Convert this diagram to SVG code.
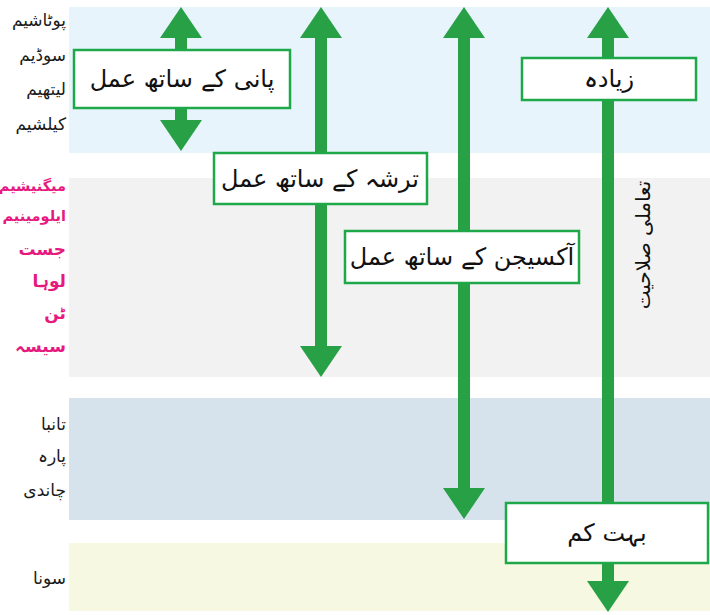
<svg xmlns="http://www.w3.org/2000/svg" width="710" height="615" viewBox="0 0 710 615">
<style>
.ur{font-family:"DejaVu Sans",sans-serif;}
.lbl{font-size:17px;fill:#1a1a1a;text-anchor:end;}
.mg{fill:#e6197f;font-weight:bold;font-size:17px;}
.sm{font-size:14.5px;}
.box{fill:#ffffff;stroke:#1fa84a;stroke-width:2.5;}
.bt{font-size:24px;fill:#111;text-anchor:middle;dominant-baseline:central;}
.vt{font-size:20px;}
.arr{stroke:#27a046;stroke-width:12;fill:none;marker-start:url(#head);marker-end:url(#head);}
</style>
<defs>
<marker id="head" markerUnits="userSpaceOnUse" markerWidth="31" markerHeight="42" refX="0" refY="21" orient="auto-start-reverse" viewBox="0 0 31 42">
<path d="M0,0 L31,21 L0,42 Z" fill="#27a046"/>
</marker>
</defs>
<g id="bands">
<rect x="69" y="7" width="641" height="146" fill="#e7f4fc"/>
<rect x="69" y="178" width="641" height="199" fill="#f2f2f2"/>
<rect x="69" y="398" width="641" height="122" fill="#d6e2ec"/>
<rect x="69" y="543" width="641" height="68" fill="#f7f8e1"/>
</g>
<g id="metals" class="ur">
<text class="lbl" x="66" y="26">پوٹاشیم</text>
<text class="lbl" x="66" y="61">سوڈیم</text>
<text class="lbl" x="66" y="95">لیتھیم</text>
<text class="lbl" x="66" y="130">کیلشیم</text>
<text class="lbl mg sm" x="66" y="191">میگنیشیم</text>
<text class="lbl mg sm" x="66" y="221">ایلومینیم</text>
<text class="lbl mg" x="66" y="255">جست</text>
<text class="lbl mg" x="66" y="287">لوہا</text>
<text class="lbl mg" x="66" y="319">ٹن</text>
<text class="lbl mg" x="66" y="352">سیسہ</text>
<text class="lbl" x="66" y="430">تانبا</text>
<text class="lbl" x="66" y="462">پارہ</text>
<text class="lbl" x="66" y="496">چاندی</text>
<text class="lbl" x="66" y="584">سونا</text>
</g>
<g id="connectors">
<line class="arr" x1="181" y1="38" x2="181" y2="120"/>
<line class="arr" x1="321" y1="38" x2="321" y2="346"/>
<line class="arr" x1="464" y1="38" x2="464" y2="488"/>
<line class="arr" x1="608" y1="38" x2="608" y2="581"/>
</g>
<g id="water" class="ur">
<rect class="box" x="74" y="50" width="216" height="58"/>
<text class="bt" x="182" y="79">پانی کے ساتھ عمل</text>
</g>
<g id="acid" class="ur">
<rect class="box" x="214" y="153" width="213" height="51"/>
<text class="bt" x="320" y="179">ترشہ کے ساتھ عمل</text>
</g>
<g id="oxygen" class="ur">
<rect class="box" x="345" y="231" width="234" height="52"/>
<text class="bt" x="462" y="257">آکسیجن کے ساتھ عمل</text>
</g>
<g id="more" class="ur">
<rect class="box" x="522" y="58" width="174" height="42"/>
<text class="bt" x="609" y="79">زیادہ</text>
</g>
<g id="less" class="ur">
<rect class="box" x="506" y="503" width="202" height="60"/>
<text class="bt" x="607" y="533">بہت کم</text>
</g>
<g id="reactivity" class="ur">
<text class="bt vt" transform="translate(643,245) rotate(-90)" x="0" y="0">تعاملی صلاحیت</text>
</g>
</svg>
